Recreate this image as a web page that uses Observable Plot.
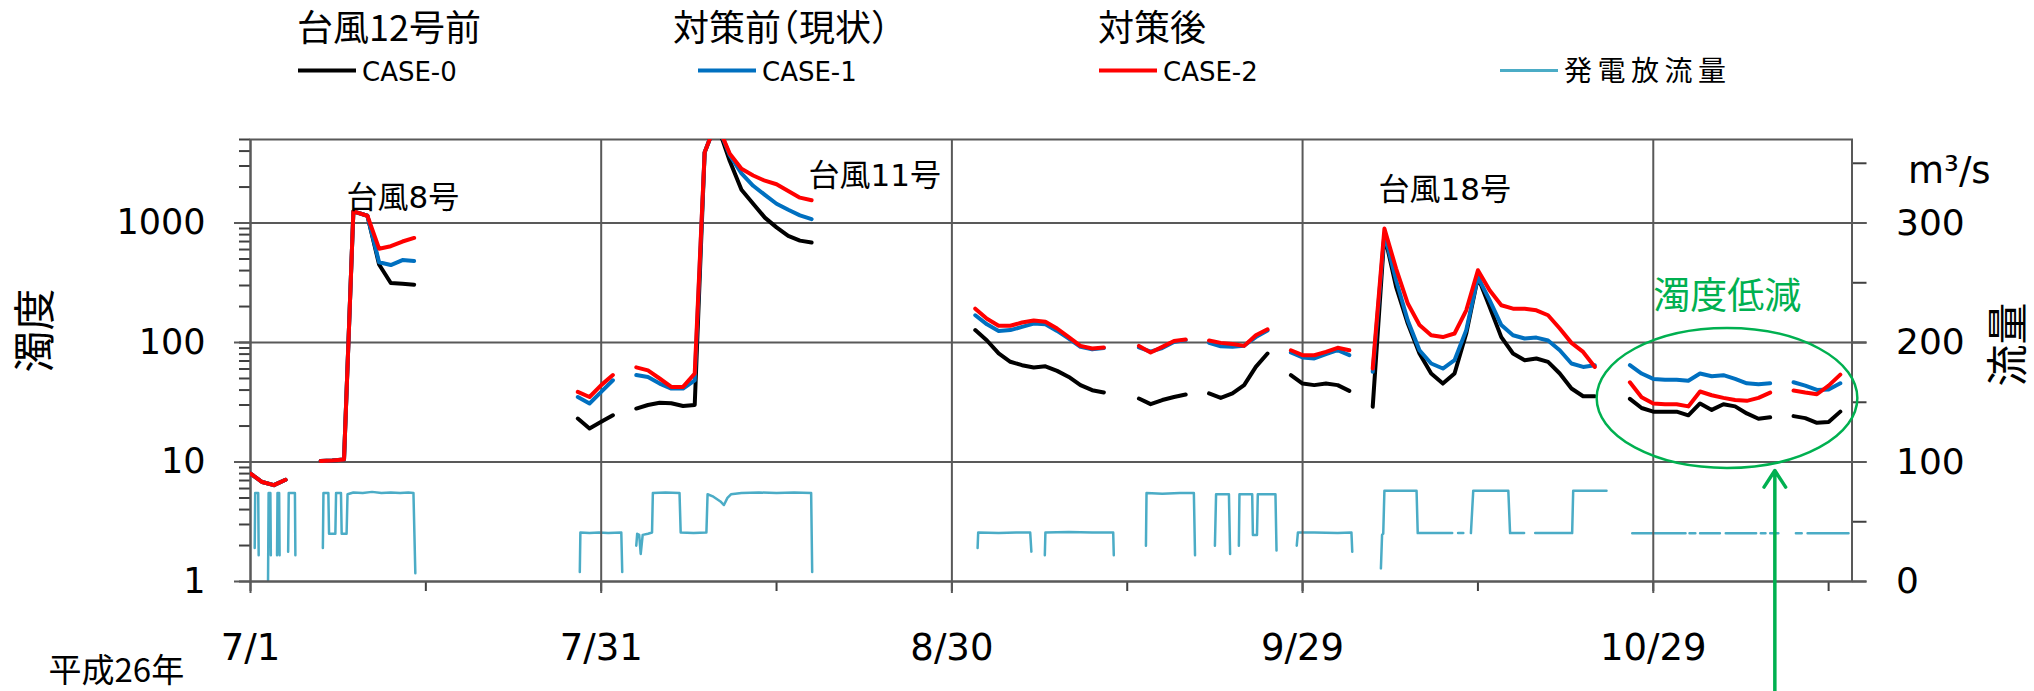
<!DOCTYPE html>
<html>
<head>
<meta charset="utf-8">
<script src="https://cdn.jsdelivr.net/npm/d3@7"></script>
<script src="https://cdn.jsdelivr.net/npm/@observablehq/plot@0.6"></script>
<style>
  body { margin: 0; background: #fff; }
  #wrap { position: relative; width: 2034px; height: 691px; overflow: hidden; background: #fff; }
  #legend { position: absolute; left: 0; top: 0; }
  #chart { position: absolute; left: 0; top: 100px; width: 2034px; height: 591px; }
  #chart svg { position: absolute; left: 0; top: 0; }
</style>
</head>
<body>
<div id="wrap"><div id="legend"></div><div id="chart"></div></div>
<script>
// ---------- data (day offsets from 2014-07-01, 平成26年) ----------
const caseDay = [0,1,2,3,null,
  6,7,8,8.8,10,11,12,13,14,null,
  28,29,30,31,null,
  33,34,35,36,37,38,38.85,39.85,41,42,43,44,45,46,47,48,null,
  62,63,64,65,66,67,68,69,70,71,72,73,null,
  76,77,78,79,80,null,
  82,83,84,85,86,87,null,
  89,90,91,92,93,94,null,
  96,97,98,99,100,101,102,103,104,105,106,107,108,109,110,111,112,113,114,115,null,
  118,119,120,121,122,123,124,125,126,127,128,129,130,null,
  132,133,134,135,136];

// 台風12号前 CASE-0
const case0 = [8.0,6.8,6.4,7.1,null,
  10.2,10.3,10.5,1250,1150,450,315,310,305,null,
  23.1,19.1,21.7,24.6,null,
  28,30,31.3,31,29.4,30,3900,7000,3300,1900,1450,1110,920,780,712,686,null,
  127,104,81,69,64.6,61.8,63.2,57.9,51.5,44,39.9,38.2,null,
  34,30.5,33,35,36.7,null,
  37.5,34.4,37.5,44,62.5,80.9,null,
  53.4,45.3,44,45.3,44,39.4,null,
  29,800,292,144,80.9,55,45.3,55,119,353,199,111,80.9,71.1,73.5,68.8,55,41.2,35.5,35.5,null,
  33.8,28.3,26.4,26.4,26.4,24.6,30.9,27.3,30.4,29.2,25.5,23,23.7,null,
  24.2,23.3,21.3,21.6,26.4];

// 対策前（現状） CASE-1
const case1 = [8.0,6.8,6.4,7.1,null,
  10.2,10.3,10.5,1250,1150,470,445,490,480,null,
  35.0,30.9,38.6,48.3,null,
  53.4,51.4,45.3,41.2,41.2,48.3,3900,7000,3700,2600,2050,1720,1450,1290,1160,1076,null,
  169,142,125,127,135,144,142,125,108,91.9,87.6,90,null,
  91,84,90,101,105,null,
  99.3,93,92,94,111,126,null,
  82.5,74.9,73.5,79.9,86.2,78.3,null,
  56.8,815,332,153,86.2,66.7,60.6,71.1,127,353,226,140,115,108,110,104,86.2,66.7,62.5,64.6,null,
  64.7,55,49.6,48.9,48.9,47.8,55,52.2,53.3,49.6,45.6,44.7,45.6,null,
  46.5,43.6,40.1,40.5,45.6];

// 対策後 CASE-2
const case2 = [8.0,6.8,6.4,7.1,null,
  10.2,10.3,10.5,1250,1150,610,640,700,750,null,
  38.6,35,44,53.4,null,
  62,58.5,50,42.5,42.5,55,3900,7000,3800,2850,2500,2260,2110,1850,1630,1550,null,
  192,158,138,138,147,153,149,131,111,93.7,89,90.7,null,
  93.7,82.5,91.9,103,106,null,
  104,99.3,97,93.7,115,129,null,
  86.2,78.3,78.3,83.4,90.3,86.2,null,
  60.6,898,416,212,140,115,111,119,186,403,274,205,192,192,186,169,131,99.3,83.4,62.5,null,
  46.5,34.9,30.9,30.4,30.4,29.2,38.9,36.2,34.4,33,32.5,34.4,38.1,null,
  39.7,38.1,36.9,43.6,53.9];

// 発電放流量 (m3/s)
const flowDay = [0.36,0.40,0.66,0.70,null,
  1.50,1.55,1.70,1.74,null,
  2.27,2.31,2.45,2.49,null,
  3.22,3.27,3.80,3.84,null,
  6.19,6.24,6.66,6.72,7.26,7.32,7.74,7.80,8.22,8.30,8.8,9.6,10.4,11.2,12.0,12.8,13.5,13.94,14.1,null,
  28.17,28.22,29.0,29.8,30.6,31.72,31.8,null,
  33.0,33.08,33.25,33.38,33.55,34.0,34.35,34.42,35.5,36.7,36.8,37.9,39.0,39.1,39.6,40.2,40.5,40.8,41.1,42.0,43.5,45.0,46.5,47.96,48.05,null,
  62.2,62.25,64.0,65.5,66.7,66.8,null,
  67.95,68.0,70.0,72.0,73.8,73.85,null,
  76.6,76.65,78.0,79.5,80.7,80.8,null,
  82.5,82.6,83.7,83.8,null,
  84.55,84.6,85.69,85.75,86.1,86.17,87.68,87.77,null,
  89.5,89.6,91.0,93.0,94.18,94.25,null,
  96.7,96.8,96.9,97.0,99.75,99.85,102.8,null,
  103.3,103.75,null,
  104.4,104.6,107.6,107.75,108.95,null,
  109.9,113.06,113.15,116.0,null,
  118.2,122.76,null, 123.1,123.6,null, 124.0,125.7,null, 126.2,128.8,null,
  129.2,129.6,null, 130.0,130.7,null, 132.2,132.7,null, 133.2,136.7];
const flowRate = [28,74,74,22,null,
  1,74,74,22,null,
  22,74,74,22,null,
  25,74,74,22,null,
  28,74,74,40,40,74,74,40,40,73,74.5,74,75,74,74.5,74,74.5,74,7,null,
  8,41,40.5,41,40.5,41,8,null,
  30,40,39,23,39,40,41,74,74.5,74,41,40.5,41,73,71,67,64,70,73,74,74.5,74,74.5,74,8,null,
  28,41,40.5,41,41,25,null,
  22,41,41.5,41,41,22,null,
  30,74,73.5,74,74,22,null,
  30,73,73,23,null,
  30,73,73,39,39,73,73,26,null,
  30,41,41,40.5,41,25,null,
  11,39,40,76,76,40.5,40.5,null,
  40.5,40.5,null,
  40.5,76,76,40.5,40.5,null,
  40.5,40.5,76,76,null,
  40.3,40.3,null, 40.3,40.3,null, 40.3,40.3,null, 40.3,40.3,null,
  40.3,40.3,null, 40.3,40.3,null, 40.3,40.3,null, 40.3,40.3];

// ticks
const majorTickDays = [0, 30, 60, 90, 120];
const majorTickLabels = ["7/1", "7/31", "8/30", "9/29", "10/29"];
const minorTickDays = [15, 45, 75, 105, 135];
const lastDay = 137; // 11/15
const turbMajor = [1, 10, 100, 1000];
const turbMinor = [2,3,4,5,6,7,8,9,20,30,40,50,60,70,80,90,200,300,400,500,600,700,800,900,2000,3000,4000,5000];
const turbTop = 5000;
const flowMajor = [0, 100, 200, 300];
const flowMinor = [50, 150, 250, 350];
const flowTop = 369.9;

// series / legend
const seriesNames = ["CASE-0", "CASE-1", "CASE-2", "発電放流量"];
const seriesGroups = ["台風12号前", "対策前（現状）", "対策後"];
const seriesColors = ["#000000", "#0070C0", "#FF0000", "#4BACC6"];

// annotations
const typhoonNotes = [
  {day: 8.21, value: 1323, label: "台風8号"},
  {day: 47.73, value: 2022, label: "台風11号"},
  {day: 96.5, value: 1544, label: "台風18号"}
];
const reductionNote = [{day: 120.0, value: 190.8, label: "濁度低減"}];
const reductionEllipse = {day0: 115.2, day1: 137.5, v0: 8.83, v1: 131};
const reductionArrow = [{day: 130.4, from: 0.12, to: 8.49}];

// ---------- helpers ----------
const START = Date.UTC(2014, 6, 1);
const toDate = d => (d == null ? null : new Date(START + d * 864e5));
const GRID = "#595959";
const GREEN = "#00B050";
const FONT = '"DejaVu Sans", "Noto Sans CJK JP", sans-serif';
const CJK = '"Noto Sans CJK JP", sans-serif';

const rows = vals => caseDay.map((d, i) => ({date: toDate(d), value: vals[i]}));
const flowRows = flowDay.map((d, i) => ({date: toDate(d), value: flowRate[i]}));

const xDomain = [toDate(0), toDate(lastDay)];
const majorDates = majorTickDays.map(toDate);
const tickFmt = d => {
  const i = majorDates.findIndex(m => +m === +d);
  return i >= 0 ? majorTickLabels[i] : "";
};
const margins = {marginTop: 39, marginBottom: 110, marginLeft: 250, marginRight: 182.5};

function ellipseMark(index, scales) {
  const s = scales && typeof scales.x === "function" ? scales : index;
  const x0 = s.x(toDate(reductionEllipse.day0)), x1 = s.x(toDate(reductionEllipse.day1));
  const y0 = s.y(reductionEllipse.v0), y1 = s.y(reductionEllipse.v1);
  const e = document.createElementNS("http://www.w3.org/2000/svg", "ellipse");
  e.setAttribute("cx", (x0 + x1) / 2);
  e.setAttribute("cy", (y0 + y1) / 2);
  e.setAttribute("rx", Math.abs(x1 - x0) / 2);
  e.setAttribute("ry", Math.abs(y1 - y0) / 2);
  e.setAttribute("fill", "none");
  e.setAttribute("stroke", GREEN);
  e.setAttribute("stroke-width", 2.5);
  return e;
}

// ---------- flow plot (right axis, linear) ----------
const p2 = Plot.plot({
  width: 2034, height: 591, ...margins,
  style: {background: "white", fontFamily: FONT, fontSize: "36px", color: "#000", overflow: "visible"},
  x: {type: "utc", domain: xDomain, axis: null},
  y: {domain: [0, flowTop], axis: "right", ticks: [...flowMajor, ...flowMinor], tickSize: 14, tickPadding: 30,
      tickFormat: d => (flowMajor.includes(d) ? String(d) : ""), label: null},
  marks: [
    Plot.line(flowRows, {x: "date", y: "value", stroke: seriesColors[3], strokeWidth: 2.5}),
    Plot.text(["m³/s"], {text: d => d, frameAnchor: "top-right", textAnchor: "start", lineAnchor: "bottom", dx: 56, dy: 43, fontSize: 37}),
    Plot.text(["流量"], {text: d => d, frameAnchor: "right", textAnchor: "middle", lineAnchor: "middle", rotate: -90, dx: 158, dy: -16, fontSize: 42, fontFamily: CJK})
  ]
});

// ---------- turbidity plot (left axis, log) ----------
const p1 = Plot.plot({
  width: 2034, height: 591, ...margins,
  style: {background: "transparent", fontFamily: FONT, fontSize: "37px", color: "#000", overflow: "visible"},
  x: {type: "utc", domain: xDomain, ticks: [...majorTickDays, ...minorTickDays].map(toDate),
      tickSize: 10, tickPadding: 42, tickFormat: tickFmt, label: null},
  y: {type: "log", domain: [1, turbTop], ticks: [...turbMajor, ...turbMinor], tickSize: 11, tickPadding: 34,
      tickFormat: d => (turbMajor.includes(d) ? String(d) : ""), label: null},
  marks: [
    Plot.ruleY(turbMajor, {stroke: GRID, strokeWidth: 2, insetLeft: -16, insetRight: -15}),
    Plot.ruleX(majorDates, {stroke: GRID, strokeWidth: 2, insetBottom: -12}),
    Plot.frame({stroke: GRID, strokeWidth: 2}),
    Plot.line(rows(case0), {x: "date", y: "value", stroke: seriesColors[0], strokeWidth: 4, strokeLinejoin: "round", clip: true}),
    Plot.line(rows(case1), {x: "date", y: "value", stroke: seriesColors[1], strokeWidth: 4, strokeLinejoin: "round", clip: true}),
    Plot.line(rows(case2), {x: "date", y: "value", stroke: seriesColors[2], strokeWidth: 4, strokeLinejoin: "round", clip: true}),
    Plot.text(typhoonNotes, {x: d => toDate(d.day), y: "value", text: "label", textAnchor: "start", lineAnchor: "bottom", fontSize: 31, fill: "#000"}),
    Plot.text(reductionNote, {x: d => toDate(d.day), y: "value", text: "label", textAnchor: "start", lineAnchor: "bottom", fontSize: 37, fill: GREEN, fontFamily: CJK}),
    ellipseMark,
    Plot.arrow(reductionArrow, {x1: d => toDate(d.day), x2: d => toDate(d.day), y1: "from", y2: "to", stroke: GREEN, strokeWidth: 3.5, headLength: 8.5, headAngle: 66}),
    Plot.text(["濁度"], {text: d => d, frameAnchor: "left", textAnchor: "middle", lineAnchor: "middle", rotate: -90, dx: -214, dy: -30, fontSize: 42, fontFamily: CJK}),
    Plot.text(["平成26年"], {text: d => d, frameAnchor: "bottom-left", textAnchor: "start", lineAnchor: "bottom", dx: -202, dy: 100, fontSize: 33, fontFamily: CJK})
  ]
});

// axis styling
function styleAxes(svg, yFont) {
  d3.select(svg).selectAll('[aria-label^="y-axis"] text').style("font-size", yFont + "px");
  d3.select(svg).selectAll('[aria-label^="x-axis"] line, [aria-label^="x-axis"] path, [aria-label^="y-axis"] line, [aria-label^="y-axis"] path')
    .attr("stroke", "#404040").attr("stroke-width", 2);
}
styleAxes(p1, 35);
styleAxes(p2, 36);

const chart = document.getElementById("chart");
chart.appendChild(p2);
chart.appendChild(p1);

// ---------- legend ----------
const lg = d3.select("#legend").append("svg").attr("width", 2034).attr("height", 100)
  .style("font-family", FONT);
const headerX = [297, 673, 1098];
seriesGroups.forEach((g, i) => {
  lg.append("text").attr("x", headerX[i]).attr("y", 40.5).attr("font-size", 36)
    .style("font-family", CJK)
    .style("font-feature-settings", i === 1 ? '"halt"' : "normal")
    .text(g);
});
const swatchX = [298, 698, 1099, 1500];
seriesNames.forEach((n, i) => {
  lg.append("line").attr("x1", swatchX[i]).attr("x2", swatchX[i] + 58).attr("y1", 70.5).attr("y2", 70.5)
    .attr("stroke", seriesColors[i]).attr("stroke-width", i === 3 ? 3 : 4);
  const t = lg.append("text").attr("x", swatchX[i] + 64).attr("y", 81).text(n);
  if (i === 3) t.attr("font-size", 28).style("font-family", CJK).style("letter-spacing", "5.5px");
  else t.attr("font-size", 26);
});
</script>
</body>
</html>
